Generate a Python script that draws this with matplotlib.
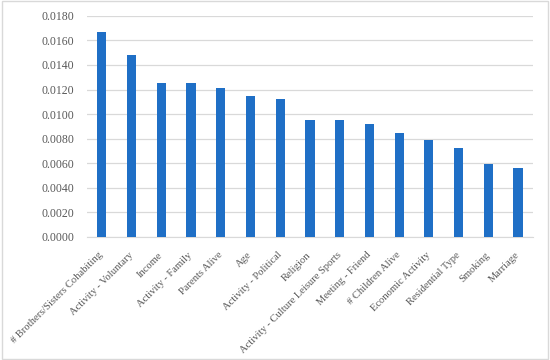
import numpy as np
import matplotlib.pyplot as plt

categories = ['# Brothers/Sisters Cohabiting', 'Activity - Voluntary', 'Income',
              'Activity - Family', 'Parents Alive', 'Age', 'Activity - Political',
              'Religion', 'Activity - Culture Leisure Sports', 'Meeting - Friend',
              '# Children Alive', 'Economic Activity', 'Residential Type',
              'Smoking', 'Marriage']
importance = [0.0167, 0.0148, 0.0125, 0.0125, 0.0121, 0.0115, 0.0112,
              0.0095, 0.0095, 0.0092, 0.0085, 0.0079, 0.0072, 0.0059, 0.0056]
yticks = [0.0, 0.002, 0.004, 0.006, 0.008, 0.010, 0.012, 0.014, 0.016, 0.018]

plt.rcParams['font.family'] = ['Liberation Serif', 'DejaVu Serif']

fig = plt.figure(figsize=(5.5, 3.6), dpi=100)
ax = fig.add_axes([0.158, 0.342, 0.811, 0.614])

x = np.arange(len(categories))
ax.bar(x, importance, width=0.31, color='#1f6fc6', zorder=3)

ax.set_xlim(-0.5, len(categories) - 0.5)
ax.set_ylim(0, 0.018)
ax.set_yticks(yticks)
ax.set_yticklabels(['%.4f' % v for v in yticks], color='#595959', fontsize=8.5)
ax.set_xticks(x)
ax.set_xticklabels(categories, rotation=45, ha='right', va='center',
                   rotation_mode='anchor', color='#595959', fontsize=7.6)
ax.tick_params(axis='y', length=0, pad=9)
ax.tick_params(axis='x', length=0, pad=12)
ax.grid(axis='y', color='#d9d9d9', linewidth=0.9, zorder=0)
for s in ['top', 'right', 'left']:
    ax.spines[s].set_visible(False)
ax.spines['bottom'].set_color('#d9d9d9')

# light frame around the figure
fig.patches.append(plt.Rectangle((0.004, 0.004), 0.992, 0.992, transform=fig.transFigure,
                                 fill=False, edgecolor='#d9d9d9', linewidth=1))

fig.savefig('out.png', dpi=100)
